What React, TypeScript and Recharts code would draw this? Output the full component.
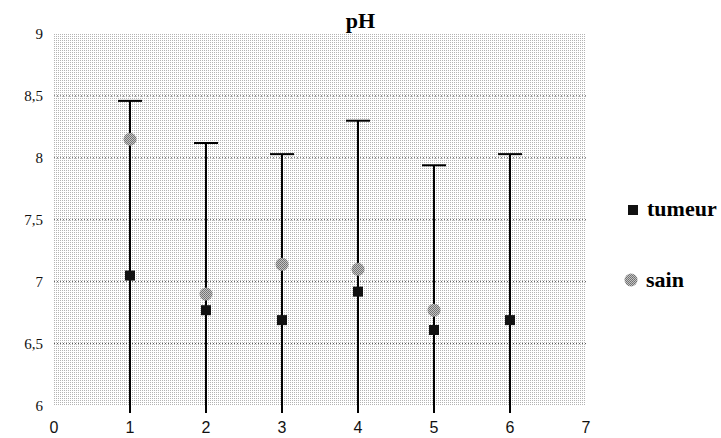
import React from 'react';
import {
  ScatterChart,
  Scatter,
  XAxis,
  YAxis,
  CartesianGrid,
  ErrorBar,
  ReferenceArea,
} from 'recharts';

const positions = [1, 2, 3, 4, 5, 6];
const tumeur = [7.05, 6.77, 6.69, 6.92, 6.61, 6.69];
const tumeurSd = [1.41, 1.35, 1.34, 1.38, 1.33, 1.34];
const sain = [8.15, 6.9, 7.14, 7.1, 6.77];
const xTicks = [0, 1, 2, 3, 4, 5, 6, 7];
const yTicks = [6, 6.5, 7, 7.5, 8, 8.5, 9];
const gridValues = [6.5, 7, 7.5, 8, 8.5];

const tumeurData = positions.map((x, i) => ({ x, y: tumeur[i], sd: tumeurSd[i] }));
const sainData = sain.map((y, i) => ({ x: positions[i], y }));

const serif = "'Liberation Serif', 'Times New Roman', Times, serif";
const sans = "'Liberation Sans', Arial, sans-serif";

// error bars run past the bottom of the plot: cut them a little below the 6 line
const clipCss = `.recharts-errorBar, .recharts-errorBars { clip-path: url(#errClip); }`;

function SquareDot(props: any) {
  const { cx, cy } = props;
  if (cx == null || cy == null) return null;
  return <rect x={cx - 5} y={cy - 5} width={10} height={10} fill="#111" />;
}

function GrayDot(props: any) {
  const { cx, cy } = props;
  if (cx == null || cy == null) return null;
  return <circle cx={cx} cy={cy} r={6.5} fill="url(#dotsDark)" />;
}

const legendText: React.CSSProperties = {
  position: 'absolute',
  fontFamily: serif,
  fontWeight: 'bold',
  fontSize: 22,
  lineHeight: '22px',
  color: '#000',
};

export default function App() {
  return (
    <div
      style={{
        position: 'fixed',
        top: 0,
        left: 0,
        width: 721,
        height: 438,
        background: '#fff',
      }}
    >
      <style>{clipCss}</style>
      <svg width={0} height={0} style={{ position: 'absolute' }}>
        <defs>
          <pattern id="dotsBg" width={2} height={2} patternUnits="userSpaceOnUse">
            <rect x={0} y={0} width={1} height={1} fill="#b4b4b4" />
          </pattern>
          <pattern id="dotsDark" width={2} height={2} patternUnits="userSpaceOnUse">
            <rect x={0} y={0} width={2} height={2} fill="#c4c4c4" />
            <rect x={0} y={0} width={1} height={1} fill="#6e6e6e" />
            <rect x={1} y={1} width={1} height={1} fill="#7a7a7a" />
          </pattern>
          <clipPath id="errClip" clipPathUnits="userSpaceOnUse">
            <rect x={0} y={0} width={721} height={413} />
          </clipPath>
        </defs>
      </svg>

      <div
        style={{
          position: 'absolute',
          top: 10,
          left: 0,
          width: 721,
          textAlign: 'center',
          fontFamily: serif,
          fontWeight: 'bold',
          fontSize: 22,
          lineHeight: '22px',
          color: '#000',
        }}
      >
        pH
      </div>

      <ScatterChart
        width={721}
        height={438}
        margin={{ top: 34, right: 135, bottom: 0, left: 0 }}
      >
        <ReferenceArea
          x1={0}
          x2={7}
          y1={6}
          y2={9}
          fill="url(#dotsBg)"
          fillOpacity={1}
          stroke="none"
        />
        <CartesianGrid
          horizontal
          vertical={false}
          horizontalValues={gridValues}
          stroke="#444"
          strokeDasharray="1 2"
        />
        <XAxis
          type="number"
          dataKey="x"
          domain={[0, 7]}
          ticks={xTicks}
          axisLine={false}
          tickLine={false}
          tickSize={0}
          tickMargin={9}
          height={25}
          tick={{ fontSize: 16, fontFamily: sans, fill: '#111' }}
        />
        <YAxis
          type="number"
          dataKey="y"
          domain={[5.94, 9]}
          allowDataOverflow
          ticks={yTicks}
          axisLine={false}
          tickLine={false}
          tickSize={0}
          tickMargin={11}
          width={54}
          tickFormatter={(v: number) => String(v).replace('.', ',')}
          tick={{ fontSize: 15, fontFamily: serif, fill: '#111' }}
        />
        <Scatter
          name="tumeur"
          data={tumeurData}
          shape={SquareDot}
          isAnimationActive={false}
        >
          <ErrorBar
            dataKey="sd"
            direction="y"
            width={12}
            stroke="#000"
            strokeWidth={2}
            isAnimationActive={false}
          />
        </Scatter>
        <Scatter
          name="sain"
          data={sainData}
          shape={GrayDot}
          isAnimationActive={false}
        />
      </ScatterChart>

      <div
        style={{
          position: 'absolute',
          left: 628,
          top: 205,
          width: 10,
          height: 10,
          background: '#111',
        }}
      />
      <div style={{ ...legendText, left: 647, top: 198 }}>tumeur</div>
      <svg
        width={14}
        height={14}
        style={{ position: 'absolute', left: 624, top: 273 }}
      >
        <circle cx={7} cy={7} r={6.5} fill="url(#dotsDark)" />
      </svg>
      <div style={{ ...legendText, left: 646, top: 269 }}>sain</div>
    </div>
  );
}
